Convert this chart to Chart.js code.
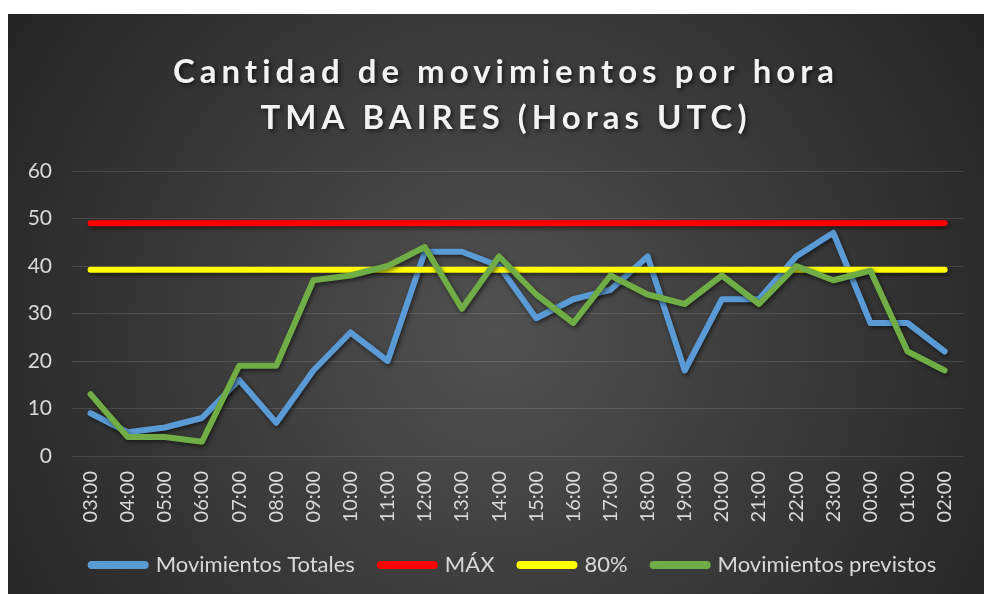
<!DOCTYPE html>
<html>
<head>
<meta charset="utf-8">
<script src="https://cdn.jsdelivr.net/npm/chart.js@4/dist/chart.umd.min.js"></script>
<style>
  html, body { margin: 0; padding: 0; background: #ffffff; }
  #wrap { position: absolute; left: 8px; top: 14px; width: 976px; height: 580px; }
</style>
</head>
<body>
<div id="wrap"><canvas id="c" width="976" height="580"></canvas></div>
<script>
const hours = ['03:00','04:00','05:00','06:00','07:00','08:00','09:00','10:00','11:00','12:00','13:00','14:00',
               '15:00','16:00','17:00','18:00','19:00','20:00','21:00','22:00','23:00','00:00','01:00','02:00'];
const movimientosTotales = [9,5,6,8,16,7,18,26,20,43,43,40,29,33,35,42,18,33,33,42,47,28,28,22];
const maxValues = [49,49,49,49,49,49,49,49,49,49,49,49,49,49,49,49,49,49,49,49,49,49,49,49];
const p80Values = [39.2,39.2,39.2,39.2,39.2,39.2,39.2,39.2,39.2,39.2,39.2,39.2,39.2,39.2,39.2,39.2,39.2,39.2,39.2,39.2,39.2,39.2,39.2,39.2];
const movimientosPrevistos = [13,4,4,3,19,19,37,38,40,44,31,42,34,28,38,34,32,38,32,40,37,39,22,18];
const yTicks = [0,10,20,30,40,50,60];
const titleLines = ['Cantidad de movimientos por hora', 'TMA BAIRES (Horas UTC)'];

const bgPlugin = {
  id: 'bg',
  beforeDraw(chart) {
    const c = chart.ctx, w = chart.width, h = chart.height;
    c.save();
    const g = c.createRadialGradient(w * 0.5, h * 0.55, 0, w * 0.5, h * 0.55, 600);
    g.addColorStop(0, '#515151');
    g.addColorStop(1, '#232323');
    c.fillStyle = g;
    c.fillRect(0, 0, w, h);
    c.restore();
  }
};
const shadowPlugin = {
  id: 'lineShadow',
  beforeDatasetDraw(chart) {
    const c = chart.ctx;
    c.save();
    c.shadowColor = 'rgba(0,0,0,0.55)';
    c.shadowBlur = 4;
    c.shadowOffsetX = 1.5;
    c.shadowOffsetY = 2;
  },
  afterDatasetDraw(chart) { chart.ctx.restore(); }
};

function ds(label, data, color, order) {
  return { label, data, borderColor: color, backgroundColor: color, borderWidth: 6,
    pointRadius: 0, pointHoverRadius: 0, tension: 0, borderCapStyle: 'round',
    borderJoinStyle: 'round', fill: false, order };
}

const textCol = '#d9d9d9';
const chart = new Chart(document.getElementById('c'), {
  type: 'line',
  data: {
    labels: hours,
    datasets: [
      ds('Movimientos Totales', movimientosTotales, '#5b9bd5', 3),
      ds('MÁX', maxValues, '#ff0000', 2),
      ds('80%', p80Values, '#ffff00', 1),
      ds('Movimientos previstos', movimientosPrevistos, '#70ad47', 0)
    ]
  },
  options: {
    responsive: false,
    animation: false,
    layout: { padding: { top: 0, left: 8, right: 14, bottom: 8 } },
    plugins: {
      tooltip: { enabled: false },
      title: {
        display: true,
        text: titleLines,
        color: '#f2f2f2',
        font: { family: 'Lato', weight: 'bold', size: 33, lineHeight: '46px' },
        padding: { top: 35, bottom: 30 }
      },
      legend: {
        position: 'bottom',
        labels: {
          color: textCol,
          font: { family: 'Lato', size: 22 },
          usePointStyle: true,
          pointStyle: 'line',
          pointStyleWidth: 53,
          padding: 26,
          sort: (a, b) => a.datasetIndex - b.datasetIndex,
          generateLabels(ch) {
            const items = Chart.defaults.plugins.legend.labels.generateLabels(ch);
            items.forEach(it => { it.lineWidth = 8; it.lineCap = 'round'; it.pointStyle = 'line'; });
            return items;
          }
        }
      }
    },
    scales: {
      x: {
        offset: true,
        grid: { display: false, drawTicks: false },
        border: { display: false },
        ticks: { color: textCol, font: { family: 'Lato', size: 20 }, minRotation: 90, maxRotation: 90, autoSkip: false, padding: 15 },
        afterFit(scale) { scale.height = 72; }
      },
      y: {
        min: 0, max: 60,
        afterBuildTicks(scale) { scale.ticks = yTicks.map(v => ({ value: v })); },
        grid: { color: 'rgba(255,255,255,0.12)', lineWidth: 1, drawTicks: false },
        border: { display: false },
        ticks: { color: textCol, font: { family: 'Lato', size: 21 }, padding: 20 },
        afterFit(scale) { scale.width = 56; }
      }
    }
  },
  plugins: [bgPlugin, shadowPlugin]
});

function shiftDraw(box, dx, extra) {
  const orig = box.draw.bind(box);
  box.draw = function () {
    const c = chart.ctx;
    c.save();
    c.translate(dx, 0);
    if (extra) extra(c);
    orig();
    c.restore();
  };
}
shiftDraw(chart.titleBlock, 13, c => {
  c.letterSpacing = '5px';
  c.shadowColor = 'rgba(0,0,0,0.6)';
  c.shadowBlur = 4;
  c.shadowOffsetX = 2;
  c.shadowOffsetY = 2;
});
shiftDraw(chart.legend, 21);
chart.update('none');
</script>
</body>
</html>
